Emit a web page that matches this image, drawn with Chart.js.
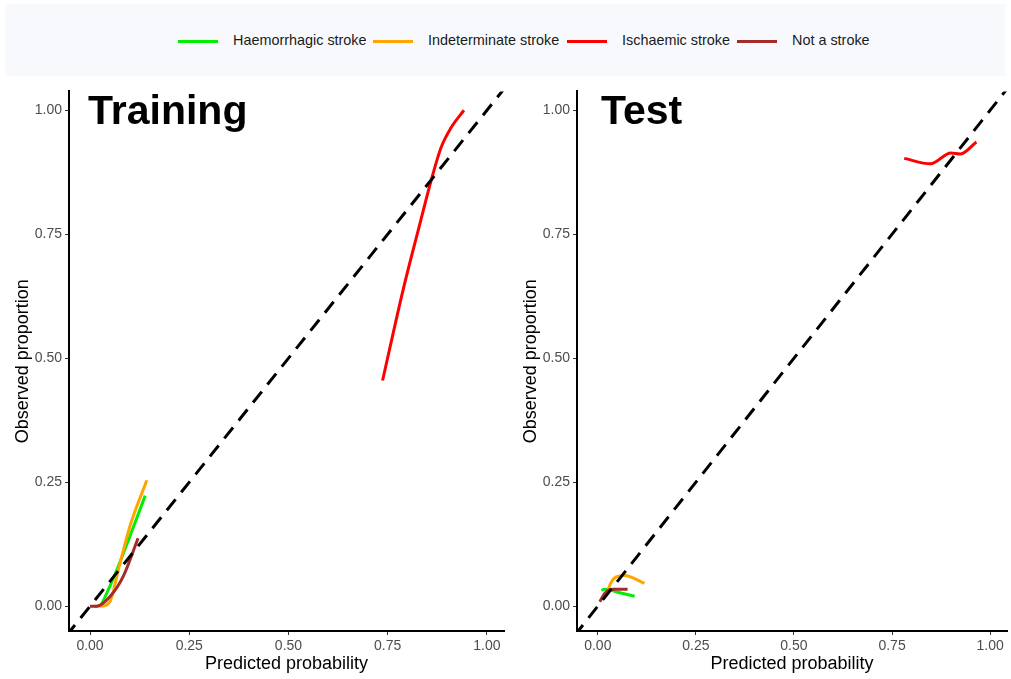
<!DOCTYPE html>
<html>
<head>
<meta charset="utf-8">
<script src="https://cdn.jsdelivr.net/npm/chart.js@4"></script>
<style>
  body { margin: 0; background: #fff; font-family: "Liberation Sans", Arial, sans-serif; }
  #wrap { position: relative; width: 1011px; height: 679px; }
  #legend { position: absolute; left: 5px; top: 4px; width: 1000px; height: 72px; background: #f8f9fd; }
  .item { position: absolute; top: 28px; font-size: 14.4px; color: #1a1a1a; line-height: 17px; }
  .swatch { position: absolute; width: 40px; height: 3px; }
  .box { position: absolute; top: 80px; }
</style>
</head>
<body>
<div id="wrap">
  <div id="legend"></div>
  <div class="box" style="left:0;width:508px;height:599px"><canvas id="trainChart"></canvas></div>
  <div class="box" style="left:508px;width:503px;height:599px"><canvas id="testChart"></canvas></div>
</div>
<script>
const seriesNames = ["Haemorrhagic stroke", "Indeterminate stroke", "Ischaemic stroke", "Not a stroke"];
const seriesColors = ["#00ee00", "#ffa500", "#ff0000", "#a52a2a"];
const tickVals = [0, 0.25, 0.5, 0.75, 1];

// training set calibration curves
const trainHaemX = [0.03, 0.038, 0.067, 0.1, 0.139];
const trainHaemY = [0.005, 0.019, 0.072, 0.14, 0.223];
const trainIndetX = [0.01, 0.025, 0.05, 0.071, 0.1, 0.143];
const trainIndetY = [0.0, 0.0, 0.009, 0.072, 0.16, 0.254];
const trainIschX = [0.737, 0.79, 0.833, 0.859, 0.884, 0.909, 0.942];
const trainIschY = [0.455, 0.642, 0.777, 0.857, 0.924, 0.964, 1.0];
const trainNotX = [0.0, 0.017, 0.05, 0.083, 0.121];
const trainNotY = [0.0, 0.0, 0.019, 0.059, 0.137];

// test set calibration curves
const testHaemX = [0.009, 0.018, 0.056, 0.094];
const testHaemY = [0.032, 0.034, 0.027, 0.02];
const testIndetX = [0.025, 0.032, 0.047, 0.068, 0.119];
const testIndetY = [0.03, 0.045, 0.059, 0.062, 0.046];
const testIschX = [0.781, 0.848, 0.9, 0.924, 0.965];
const testIschY = [0.903, 0.892, 0.914, 0.912, 0.936];
const testNotX = [0.005, 0.018, 0.038, 0.076];
const testNotY = [0.009, 0.026, 0.034, 0.034];

const diagX = [-0.06, 1.06];

const legendX = [178, 373, 567, 737];
const legend = document.getElementById('legend');
seriesNames.forEach((name, i) => {
  const sw = document.createElement('div');
  sw.className = 'swatch';
  sw.style.left = (legendX[i] - 5) + 'px';
  sw.style.top = '36px';
  sw.style.background = seriesColors[i];
  legend.appendChild(sw);
  const lab = document.createElement('div');
  lab.className = 'item';
  lab.style.left = (legendX[i] + 50) + 'px';
  lab.textContent = name;
  legend.appendChild(lab);
});

function pts(xs, ys) {
  return xs.map((x, i) => ({ x: x, y: ys[i] }));
}

const titlePlugin = {
  id: 'panelTitle',
  afterDraw(chart, args, opts) {
    const ctx = chart.ctx;
    ctx.save();
    ctx.font = 'bold 41px "Liberation Sans", Arial, sans-serif';
    ctx.fillStyle = '#000';
    ctx.textBaseline = 'alphabetic';
    ctx.fillText(opts.text, chart.chartArea.left + opts.dx, chart.chartArea.top + 33);
    ctx.restore();
  }
};

function makeChart(id, title, dx, groups) {
  const datasets = groups.map((g, i) => ({
    label: seriesNames[i],
    data: pts(g[0], g[1]),
    borderColor: seriesColors[i],
    borderWidth: 3,
    pointRadius: 0,
    cubicInterpolationMode: 'monotone',
    order: 4 - i
  }));
  datasets.push({
    label: 'ideal',
    data: pts(diagX, diagX),
    borderColor: '#000',
    borderWidth: 3,
    borderDash: [14, 9],
    pointRadius: 0,
    order: 0
  });
  const axisCommon = {
    type: 'linear',
    grid: { drawOnChartArea: false, drawTicks: true, tickLength: 4, tickColor: '#333', lineWidth: 1 },
    border: { display: true, color: '#000', width: 2 },
    afterBuildTicks: s => { s.ticks = tickVals.map(v => ({ value: v })); },
    ticks: {
      color: '#4d4d4d',
      font: { size: 14, family: '"Liberation Sans", Arial, sans-serif' },
      padding: 3,
      callback: v => v.toFixed(2)
    }
  };
  return new Chart(document.getElementById(id), {
    type: 'line',
    data: { datasets },
    plugins: [titlePlugin],
    options: {
      responsive: true,
      maintainAspectRatio: false,
      animation: false,
      layout: { padding: { top: 0, right: 4, left: 0, bottom: 0 } },
      plugins: {
        legend: { display: false },
        tooltip: { enabled: false },
        panelTitle: { text: title, dx: dx }
      },
      scales: {
        x: Object.assign({}, axisCommon, {
          min: -0.053, max: 1.043,
          afterFit: s => { s.height = 48; },
          title: { display: true, text: 'Predicted probability', color: '#000',
                   font: { size: 18, family: '"Liberation Sans", Arial, sans-serif' }, padding: { top: 0 } }
        }),
        y: Object.assign({}, axisCommon, {
          min: -0.05, max: 1.038,
          afterFit: s => { s.width = 69; },
          title: { display: true, text: 'Observed proportion', color: '#000',
                   font: { size: 18, family: '"Liberation Sans", Arial, sans-serif' }, padding: { top: 12, bottom: 0 } }
        })
      }
    }
  });
}

makeChart('trainChart', 'Training', 19, [
  [trainHaemX, trainHaemY], [trainIndetX, trainIndetY], [trainIschX, trainIschY], [trainNotX, trainNotY]
]);
makeChart('testChart', 'Test', 24, [
  [testHaemX, testHaemY], [testIndetX, testIndetY], [testIschX, testIschY], [testNotX, testNotY]
]);
</script>
</body>
</html>
